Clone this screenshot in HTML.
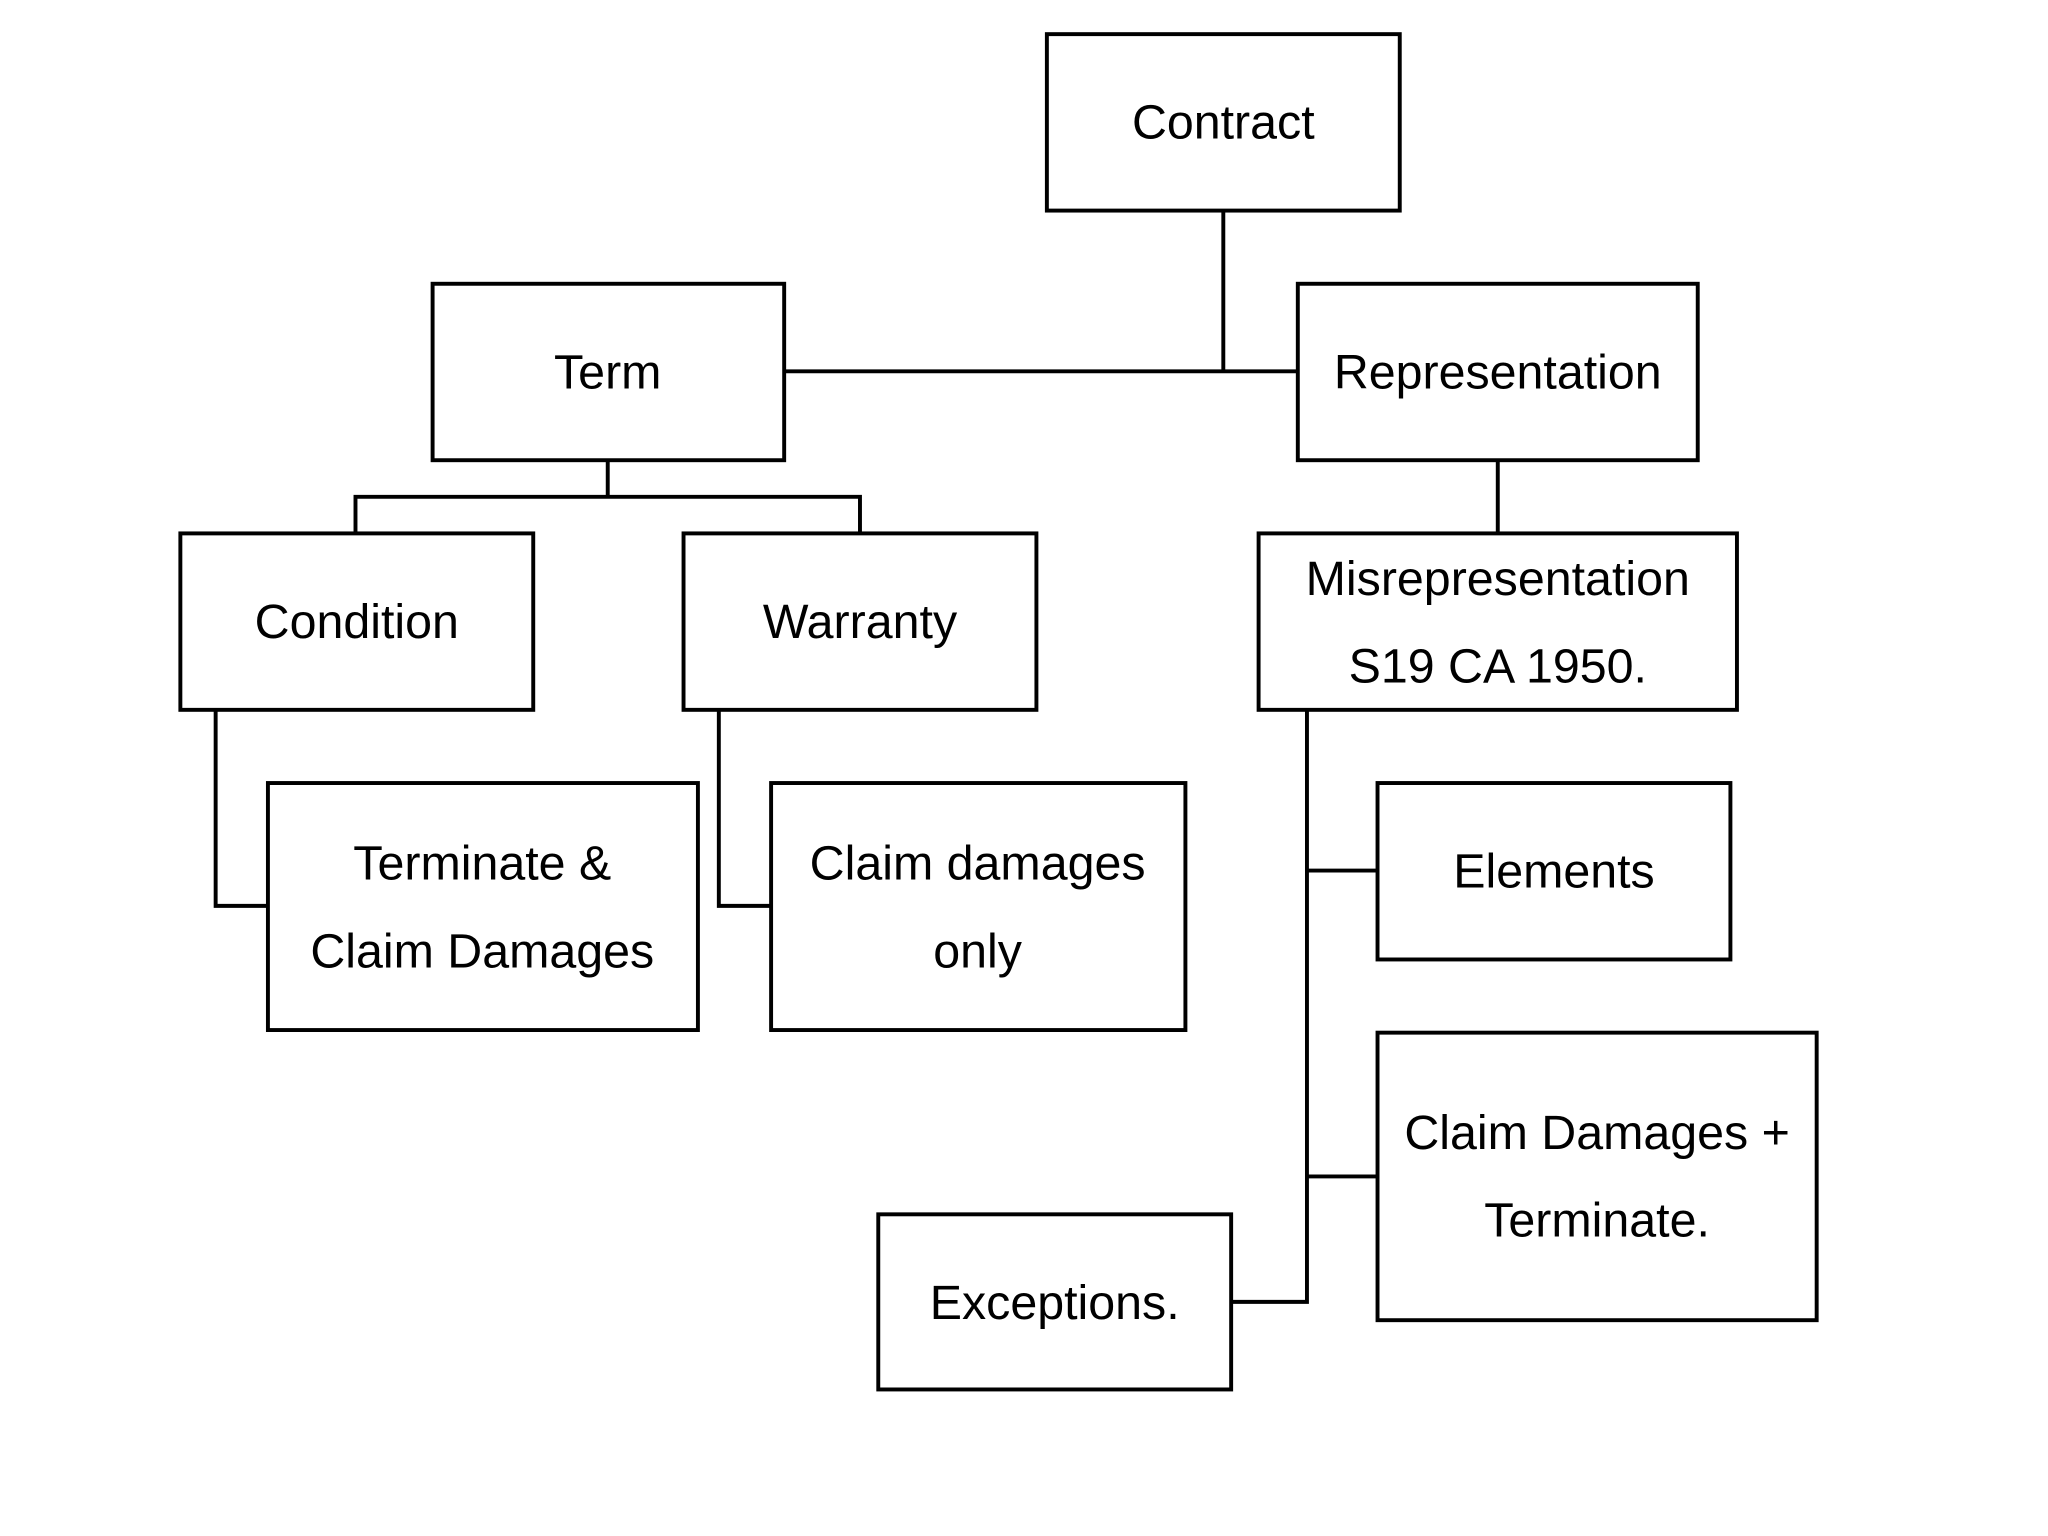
<!DOCTYPE html>
<html><head><meta charset="utf-8"><style>html,body{margin:0;padding:0;background:#fff}svg{display:block}</style></head>
<body>
<svg width="2048" height="1536" viewBox="0 0 1567 1175" xmlns="http://www.w3.org/2000/svg">
<g fill="#fff" stroke="#000" stroke-width="3" stroke-linejoin="miter">
<rect x="801" y="26" width="270" height="135"/>
<rect x="331" y="217" width="269" height="135"/>
<rect x="993" y="217" width="306" height="135"/>
<rect x="138" y="408" width="270" height="135"/>
<rect x="523" y="408" width="270" height="135"/>
<rect x="963" y="408" width="366" height="135"/>
<rect x="205" y="599" width="329" height="189"/>
<rect x="590" y="599" width="317" height="189"/>
<rect x="1054" y="599" width="270" height="135"/>
<rect x="1054" y="790" width="336" height="220"/>
<rect x="672" y="929" width="270" height="134"/>
</g>
<g fill="none" stroke="#000" stroke-width="3">
<path d="M936 161V284M600 284H993"/>
<path d="M465 352V380M272 408V380H658V408"/>
<path d="M1146 352V408"/>
<path d="M165 543V693H205"/>
<path d="M550 543V693H590"/>
<path d="M1000 543V996H942M1000 666H1054M1000 900H1054"/>
</g>
<g font-family="'Liberation Sans',sans-serif" font-size="37" text-anchor="middle" fill="#000">
<text x="936" y="106">Contract</text>
<text x="465" y="297">Term</text>
<text x="1146" y="297">Representation</text>
<text x="273" y="488">Condition</text>
<text x="658" y="488">Warranty</text>
<text x="1146" y="455">Misrepresentation</text>
<text x="1146" y="522">S19 CA 1950.</text>
<text x="369" y="673">Terminate &amp;</text>
<text x="369" y="740">Claim Damages</text>
<text x="748" y="673">Claim damages</text>
<text x="748" y="740">only</text>
<text x="1189" y="679">Elements</text>
<text x="1222" y="879">Claim Damages +</text>
<text x="1222" y="946">Terminate.</text>
<text x="807" y="1009">Exceptions.</text>
</g>
</svg>
</body></html>
